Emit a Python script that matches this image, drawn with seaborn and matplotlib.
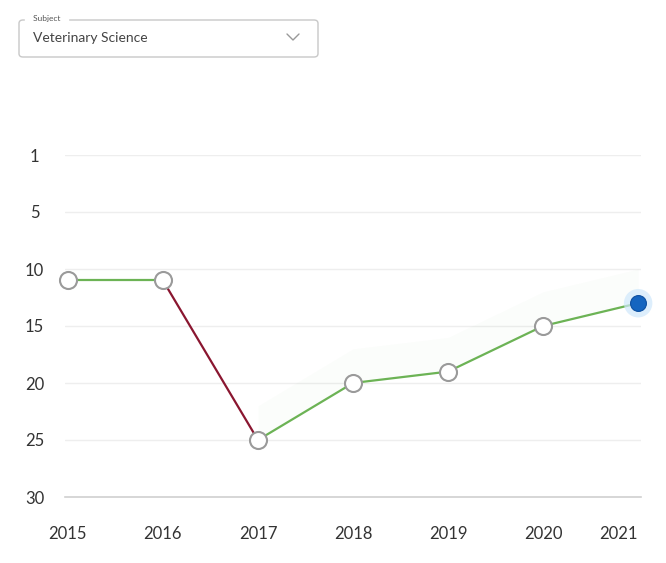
import matplotlib
matplotlib.use("Agg")
import matplotlib.pyplot as plt
import pandas as pd
import seaborn as sns
from matplotlib.patches import FancyBboxPatch

years = [2015, 2016, 2017, 2018, 2019, 2020, 2021]
ranks = [11, 11, 25, 20, 19, 15, 13]
ytick_pos = [0, 5, 10, 15, 20, 25, 30]
ytick_labels = ["1", "5", "10", "15", "20", "25", "30"]
subject = "Veterinary Science"

GREEN = "#6cb355"
RED = "#8a1630"
BLUE = "#1565c0"

sns.set_theme(style="white")
plt.rcParams["font.family"] = ["Lato", "DejaVu Sans"]

df = pd.DataFrame({"year": years, "rank": ranks})

fig = plt.figure(figsize=(6.66, 5.63), dpi=100)
ax = fig.add_axes([65 / 666, 1 - 497 / 563, 576 / 666, (497 - 155) / 563])

# very faint green tint behind the improving stretch
ax.fill_between(years[2:], [r - 3 for r in ranks[2:]], ranks[2:], color=GREEN, alpha=0.025, lw=0)

# line segments: red when rank worsens, green otherwise
for i in range(len(df) - 1):
    seg = df.iloc[i:i + 2]
    col = RED if seg["rank"].iloc[1] > seg["rank"].iloc[0] else GREEN
    sns.lineplot(data=seg, x="year", y="rank", ax=ax, color=col, lw=1.6, clip_on=False, zorder=3)

# markers
sns.scatterplot(data=df.iloc[:-1], x="year", y="rank", ax=ax, s=150, color="white",
                edgecolor="#9a9a9a", linewidth=1.5, clip_on=False, zorder=4)
last = df.iloc[-1:]
sns.scatterplot(data=last, x="year", y="rank", ax=ax, s=420, color="#cfe8fb",
                edgecolor="none", alpha=0.7, clip_on=False, zorder=4)
sns.scatterplot(data=last, x="year", y="rank", ax=ax, s=130, color=BLUE,
                edgecolor="#0d4fa0", linewidth=0.8, clip_on=False, zorder=5)

ax.set_xlim(2014.97, 2021.03)
ax.set_ylim(30, 0)
ax.set_yticks(ytick_pos)
ax.set_yticklabels(ytick_labels)
ax.set_xticks(years)
ax.set_xticklabels([str(y) for y in years])
ax.set_xlabel("")
ax.set_ylabel("")

for y in ytick_pos[:-1]:
    ax.axhline(y, color="#eeeeee", lw=1, zorder=0)

for s in ["top", "right", "left"]:
    ax.spines[s].set_visible(False)
ax.spines["bottom"].set_color("#d0d0d0")
ax.spines["bottom"].set_linewidth(1.2)

ax.tick_params(axis="x", length=7, width=1, color="#d8d8d8", pad=14, labelsize=12, labelcolor="#333333")
ax.tick_params(axis="y", length=0, pad=22, labelsize=12, labelcolor="#333333")
for lab in ax.get_yticklabels():
    lab.set_horizontalalignment("center")
labs = ax.get_xticklabels()
labs[-1].set_horizontalalignment("right")
labs[-1].set_x(2021.1)

# subject dropdown
box = FancyBboxPatch((19 / 666, 1 - 57 / 563), (318 - 19) / 666, (57 - 20) / 563,
                     boxstyle="round,pad=0,rounding_size=0.006", transform=fig.transFigure,
                     facecolor="white", edgecolor="#c8c8c8", lw=1)
fig.patches.append(box)
fig.text(31 / 666, 1 - 19 / 563, " Subject ", fontsize=6, color="#555555", va="center",
         ha="left", backgroundcolor="white")
fig.text(33 / 666, 1 - 38 / 563, subject, fontsize=10, color="#444444", va="center", ha="left")
fig.lines.append(plt.Line2D([287 / 666, 293 / 666, 299 / 666],
                            [1 - 34 / 563, 1 - 40 / 563, 1 - 34 / 563],
                            transform=fig.transFigure, color="#999999", lw=1))

fig.savefig("out.png", dpi=100)
